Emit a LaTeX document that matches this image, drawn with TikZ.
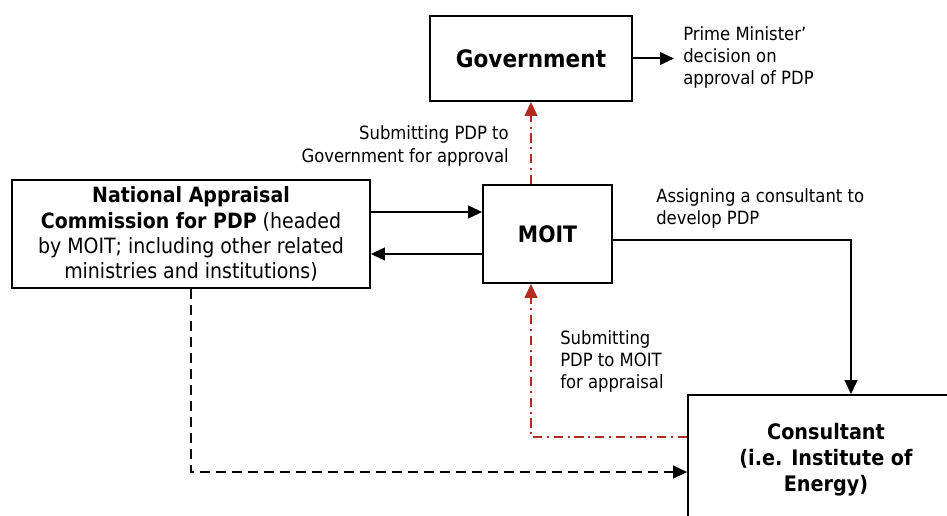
\documentclass[tikz,border=0pt]{standalone}
\usepackage{fontspec}
\setmainfont{DejaVu Sans Condensed}
\usetikzlibrary{arrows.meta,calc}
\definecolor{redline}{RGB}{178,44,32}
\begin{document}
\begin{tikzpicture}[x=0.75pt,y=-0.75pt,
  box/.style={draw=black,line width=1.3pt,fill=white,inner sep=0pt},
  lbl/.style={inner sep=0pt,font=\fontsize{13.7}{16.8}\selectfont},
  arr/.style={line width=1.5pt,-{Triangle[length=10.5pt,width=9.5pt]}},
  redarr/.style={draw=redline,line width=1.5pt,dash pattern=on 7pt off 3.5pt on 1.5pt off 3.5pt,-{Triangle[length=10.5pt,width=9.5pt]},redline},
  dasharr/.style={line width=1.5pt,dash pattern=on 7.5pt off 4.5pt,-{Triangle[length=10.5pt,width=9.5pt]}}]
\useasboundingbox (0,0) rectangle (947,516);
\coordinate (cx) at (851,0);
% boxes
\node[box,minimum width=151.5pt,minimum height=63.75pt,font=\bfseries\fontsize{18}{22}\selectfont] (gov) at (531,58.5) {Government};
\node[box,minimum width=268.5pt,minimum height=81pt,align=center,font=\fontsize{15.8}{18.9}\selectfont] (nac) at (191,234) {\textbf{National Appraisal}\\\textbf{Commission for PDP} (headed\\by MOIT; including other related\\ministries and institutions)};
\node[box,minimum width=96.75pt,minimum height=73.5pt,font=\bfseries\fontsize{17}{20}\selectfont] (moit) at (547.5,234) {MOIT};
\node[box,minimum width=241.5pt,minimum height=123.75pt] (cons) at (849,477.5) {};
\node[inner sep=0pt,align=center,font=\bfseries\fontsize{16}{19.5}\selectfont] (constext) at (826,460) {Consultant\\(i.e. Institute of\\Energy)};
% labels
\node[lbl,anchor=north west,align=left,inner xsep=6.75pt] (pm) at (674,26) {Prime Minister’\\decision on\\approval of PDP};
\node[lbl,anchor=east,align=right] (l1) at (509,146) {Submitting PDP to\\Government for approval};
\node[lbl,anchor=north west,align=left] (l2) at (656,188) {Assigning a consultant to\\develop PDP};
\node[lbl,anchor=north west,align=left] (l3) at (560,330) {Submitting\\PDP to MOIT\\for appraisal};
% connectors
\draw[arr] (gov.east) -- (gov.east -| pm.west);
\draw[arr] ([yshift=16.5pt]nac.east) -- ([yshift=16.5pt]moit.west);
\draw[arr] ([yshift=-15pt]moit.west) -- ([yshift=-15pt]nac.east);
\draw[redarr] (gov.south |- moit.north) -- (gov.south);
\draw[arr] ([yshift=-4.5pt]moit.east) -| (cons.north -| cx);
\draw[redarr] ([yshift=30.4pt]cons.west) -| (moit.south -| gov.south);
\draw[dasharr] (nac.south) |- ([yshift=4.1pt]cons.west);
\end{tikzpicture}
\end{document}
